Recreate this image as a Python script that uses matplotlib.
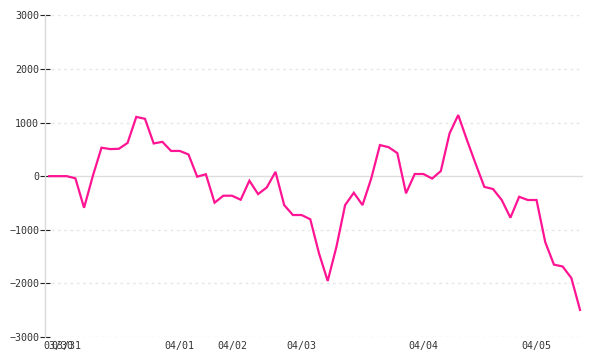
import matplotlib
matplotlib.use("Agg")
import matplotlib.pyplot as plt

values = [0, 0, 0, -40, -590, 0, 530, 505, 510, 620,
          1105, 1070, 610, 640, 470, 470, 405, -10, 35, -495,
          -365, -365, -440, -85, -335, -210, 80, -540, -725, -725,
          -805, -1440, -1955, -1320, -540, -310, -540, -45, 580, 540,
          430, -320, 40, 40, -45, 95, 795, 1140, 675, 230,
          -200, -240, -445, -775, -385, -445, -445, -1230, -1650, -1685,
          -1900, -2495]
tick_idx = [1, 2, 15, 21, 29, 43, 56]
tick_labels = ["03/30", "03/31", "04/01", "04/02", "04/03", "04/04", "04/05"]
y_ticks = [-3000, -2000, -1000, 0, 1000, 2000, 3000]

plt.rcParams["font.family"] = ["DejaVu Sans Mono", "DejaVu Sans"]

fig = plt.figure(figsize=(6, 3.6), dpi=100)
ax = fig.add_axes([45/600, 1-337/360, (583-45)/600, (337-15.3)/360])

x = list(range(len(values)))
for yv in y_ticks:
    if yv == 0:
        ax.axhline(yv, color="#dddddd", lw=1, zorder=1)
    else:
        ax.axhline(yv, color="#e6e6e6", lw=1, linestyle=(0, (2, 2.5)), zorder=1)

ax.plot(x, values, color="#ff1493", lw=1.6, zorder=3, solid_joinstyle="miter")

ax.set_xlim(-0.49, 61.34)
ax.set_ylim(-3000, 3000)
ax.set_yticks(y_ticks)
ax.set_yticklabels([str(v).replace("-", "\u2212") for v in y_ticks])
ax.set_xticks(tick_idx)
ax.set_xticklabels(tick_labels)

for s in ["top", "right", "bottom"]:
    ax.spines[s].set_visible(False)
ax.spines["left"].set_color("#d9d9d9")
ax.spines["left"].set_linewidth(1)

ax.tick_params(axis="y", direction="inout", length=6.5, width=0.8, color="#222222",
               labelsize=7.2, labelcolor="#333333", pad=1)
ax.tick_params(axis="x", length=0, labelsize=7.2, labelcolor="#333333", pad=3)

fig.savefig("out.png", dpi=100)
